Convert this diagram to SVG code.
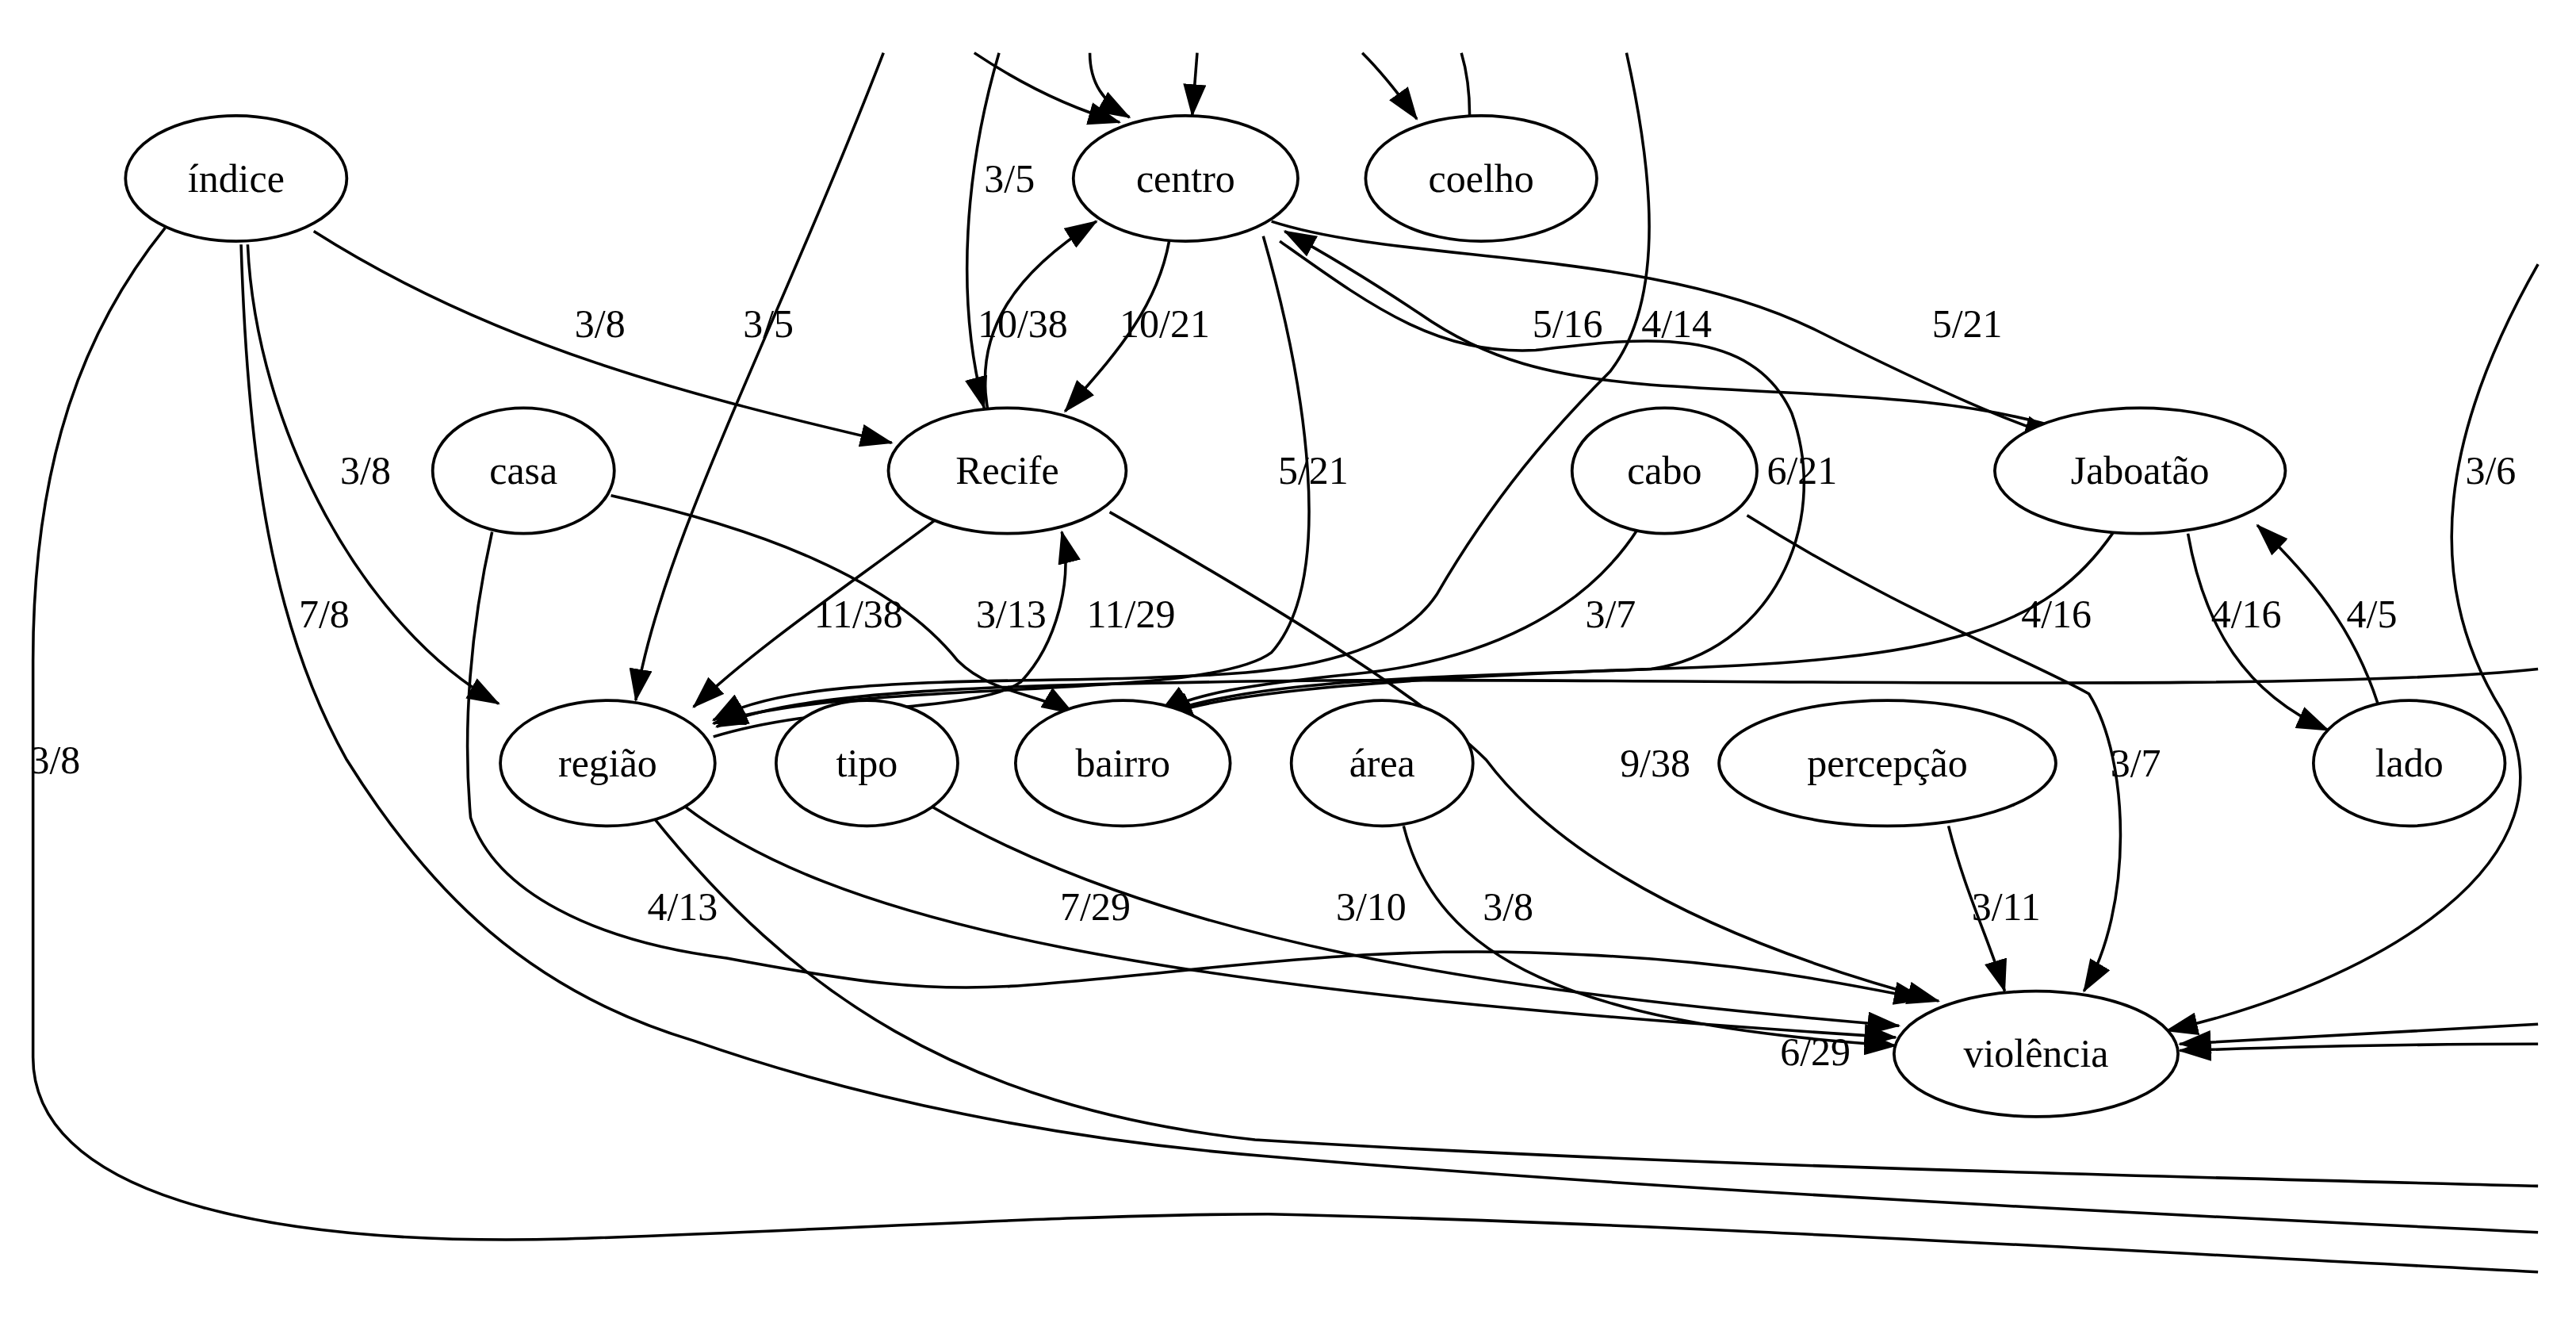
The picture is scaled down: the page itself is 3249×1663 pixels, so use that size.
<svg xmlns="http://www.w3.org/2000/svg" width="3249" height="1663" viewBox="0 0 3249 1663">
<style>
.n ellipse{fill:#fff;stroke:#000;stroke-width:1.8}
text{font-family:"Liberation Serif","DejaVu Serif",serif;font-size:24px;fill:#000}
.n text{text-anchor:middle}
.e path{fill:none;stroke:#000;stroke-width:1.7}
.a{marker-end:url(#ah)}
</style>
<defs>
<marker id="ah" viewBox="0 0 20 14" refX="19" refY="7" markerWidth="20" markerHeight="14" markerUnits="userSpaceOnUse" orient="auto">
<path d="M0,0 L20,7 L0,14 Z" fill="#000"/>
</marker>
</defs>
<rect width="3249" height="1663" fill="#fff"/>
<g transform="scale(2.0827)">
<g class="e" id="edges">
<path class="a" d="M535,32 C470,200 400,330 385,424"/>
<path class="a" d="M590,32 C620,52 650,66 678,74"/>
<path class="a" d="M605,32 C585,100 578,180 596,247"/>
<path class="a" d="M660,32 C660,50 668,62 684,71"/>
<path class="a" d="M725,32 L722,70"/>
<path class="a" d="M825,32 C838,45 848,58 858,72"/>
<path d="M890,70 C890,55 888,42 885,32"/>
<path class="a" d="M985,32 C1000,100 1010,180 975,225 C940,260 905,300 870,360 C840,405 760,408 700,410 C600,414 480,408 432,436"/>
<path class="a" d="M190,140 C300,210 420,240 540,268"/>
<path class="a" d="M150,148 C155,260 220,380 302,426"/>
<path d="M146,148 C150,280 165,380 210,460 C260,540 320,600 420,630 C520,665 640,690 768,700 C1000,720 1300,735 1537,746"/>
<path d="M100,138 C50,200 20,280 20,400 L20,640 C20,720 150,755 343,750 C500,745 650,735 768,735 C1000,740 1300,758 1537,770"/>
<path class="a" d="M298,322 C285,380 280,440 285,495 C300,540 360,570 440,580 C520,595 560,600 612,597 C720,590 820,570 959,578 C1050,582 1110,594 1166,605"/>
<path class="a" d="M370,300 C460,320 540,350 580,400 C600,420 630,420 650,432"/>
<path class="a" d="M708,146 C700,190 670,220 645,249"/>
<path class="a" d="M598,247 C590,200 615,165 664,134"/>
<path class="a" d="M765,143 C790,230 810,350 770,395 C730,425 520,410 432,438"/>
<path class="a" d="M770,134 C850,160 1000,150 1100,200 C1170,235 1215,255 1245,264"/>
<path class="a" d="M1250,260 C1180,238 1100,240 1000,233 C940,228 900,218 860,190 C830,170 800,152 778,140"/>
<path class="a" d="M775,146 C830,185 870,215 930,212 C990,205 1060,195 1085,250 C1110,320 1070,395 1000,405 C880,410 760,410 702,433"/>
<path class="a" d="M570,312 C520,350 460,390 420,428"/>
<path class="a" d="M432,446 C500,425 590,432 618,413 C640,390 650,350 643,322"/>
<path class="a" d="M672,310 C760,360 860,420 900,460 C930,500 1000,560 1174,606"/>
<path class="a" d="M992,320 C960,370 900,400 820,408 C760,414 720,420 702,432"/>
<path class="a" d="M1058,312 C1150,370 1230,400 1265,420 C1290,460 1292,550 1262,600"/>
<path class="a" d="M1280,322 C1240,380 1180,400 1000,405 C860,410 740,418 703,434"/>
<path class="a" d="M1325,323 C1335,380 1360,420 1410,442"/>
<path class="a" d="M1440,426 C1425,380 1400,350 1367,318"/>
<path class="a" d="M1537,160 C1480,260 1465,350 1515,430 C1565,520 1440,595 1312,624"/>
<path class="a" d="M1537,620 C1440,626 1380,628 1320,632"/>
<path class="a" d="M1537,632 C1450,632 1380,634 1320,636"/>
<path class="a" d="M1537,405 C1400,420 1000,410 800,412 C600,414 480,418 434,440"/>
<path class="a" d="M407,482 C500,560 700,600 1148,628"/>
<path d="M395,494 C480,600 580,670 760,690 C1000,705 1300,712 1537,718"/>
<path class="a" d="M557,484 C700,570 900,600 1150,621"/>
<path class="a" d="M850,500 C870,580 950,620 1148,633"/>
<path class="a" d="M1180,500 C1190,540 1205,570 1214,600"/>
</g>
<g id="labels">
<text x="348" y="204">3/8</text>
<text x="450" y="204">3/5</text>
<text x="596" y="116">3/5</text>
<text x="592" y="204">10/38</text>
<text x="678" y="204">10/21</text>
<text x="206" y="293">3/8</text>
<text x="181" y="380">7/8</text>
<text x="18" y="468">3/8</text>
<text x="774" y="293">5/21</text>
<text x="493" y="380">11/38</text>
<text x="591" y="380">3/13</text>
<text x="658" y="380">11/29</text>
<text x="928" y="204">5/16</text>
<text x="994" y="204">4/14</text>
<text x="1170" y="204">5/21</text>
<text x="1070" y="293">6/21</text>
<text x="1493" y="293">3/6</text>
<text x="960" y="380">3/7</text>
<text x="1224" y="380">4/16</text>
<text x="1339" y="380">4/16</text>
<text x="1421" y="380">4/5</text>
<text x="981" y="470">9/38</text>
<text x="1278" y="470">3/7</text>
<text x="392" y="557">4/13</text>
<text x="642" y="557">7/29</text>
<text x="809" y="557">3/10</text>
<text x="898" y="557">3/8</text>
<text x="1194" y="557">3/11</text>
<text x="1078" y="645">6/29</text>
</g>
<g id="n-indice" class="n"><ellipse cx="143" cy="108" rx="67" ry="38"/><text x="143" y="116">índice</text></g>
<g id="n-centro" class="n"><ellipse cx="718" cy="108" rx="68" ry="38"/><text x="718" y="116">centro</text></g>
<g id="n-coelho" class="n"><ellipse cx="897" cy="108" rx="70" ry="38"/><text x="897" y="116">coelho</text></g>
<g id="n-casa" class="n"><ellipse cx="317" cy="285" rx="55" ry="38"/><text x="317" y="293">casa</text></g>
<g id="n-recife" class="n"><ellipse cx="610" cy="285" rx="72" ry="38"/><text x="610" y="293">Recife</text></g>
<g id="n-cabo" class="n"><ellipse cx="1008" cy="285" rx="56" ry="38"/><text x="1008" y="293">cabo</text></g>
<g id="n-jaboatao" class="n"><ellipse cx="1296" cy="285" rx="88" ry="38"/><text x="1296" y="293">Jaboatão</text></g>
<g id="n-regiao" class="n"><ellipse cx="368" cy="462" rx="65" ry="38"/><text x="368" y="470">região</text></g>
<g id="n-tipo" class="n"><ellipse cx="525" cy="462" rx="55" ry="38"/><text x="525" y="470">tipo</text></g>
<g id="n-bairro" class="n"><ellipse cx="680" cy="462" rx="65" ry="38"/><text x="680" y="470">bairro</text></g>
<g id="n-area" class="n"><ellipse cx="837" cy="462" rx="55" ry="38"/><text x="837" y="470">área</text></g>
<g id="n-percepcao" class="n"><ellipse cx="1143" cy="462" rx="102" ry="38"/><text x="1143" y="470">percepção</text></g>
<g id="n-lado" class="n"><ellipse cx="1459" cy="462" rx="58" ry="38"/><text x="1459" y="470">lado</text></g>
<g id="n-violencia" class="n"><ellipse cx="1233" cy="638" rx="86" ry="38"/><text x="1233" y="646">violência</text></g>
</g>
</svg>
